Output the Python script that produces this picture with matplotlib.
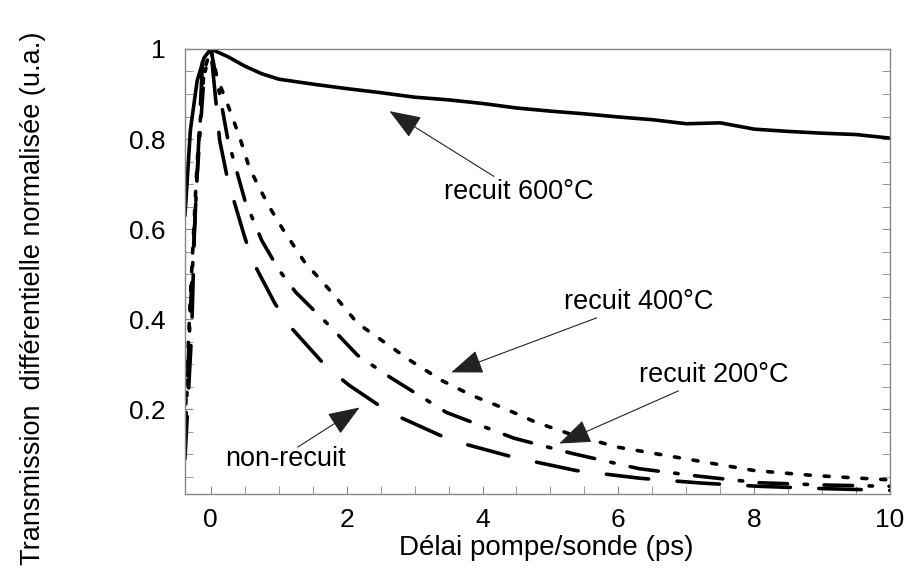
import matplotlib
matplotlib.use("Agg")
import matplotlib.pyplot as plt
from matplotlib.ticker import MultipleLocator

plt.rcParams['font.family'] = ['Liberation Sans', 'DejaVu Sans']
plt.rcParams['lines.scale_dashes'] = False

# recuit 600°C (solid)
x600 = [-0.38, -0.3, -0.2, -0.1, 0.0, 0.25, 0.5, 0.75, 1.0, 1.5, 2.0, 2.5, 3.0, 3.5, 4.0,
        4.5, 5.0, 5.5, 6.0, 6.5, 7.0, 7.5, 8.0, 8.5, 9.0, 9.5, 10.0]
y600 = [0.63, 0.82, 0.93, 0.98, 1.0, 0.983, 0.962, 0.945, 0.933, 0.922, 0.912, 0.903, 0.893,
        0.887, 0.879, 0.869, 0.862, 0.856, 0.849, 0.843, 0.834, 0.836, 0.822, 0.817, 0.813,
        0.81, 0.802]

# recuit 400°C (dotted)
x400 = [-0.38, -0.3, -0.2, -0.1, 0.0, 0.09, 0.28, 0.43, 0.57, 0.84, 1.06, 1.38, 1.79, 2.16,
        2.49, 2.93, 3.40, 3.84, 4.32, 4.79, 5.31, 5.99, 6.68, 7.38, 8.0, 8.88, 9.91, 10.0]
y400 = [0.17, 0.45, 0.75, 0.95, 1.0, 0.938, 0.864, 0.802, 0.735, 0.655, 0.6, 0.527, 0.458,
        0.391, 0.356, 0.309, 0.264, 0.231, 0.202, 0.171, 0.144, 0.116, 0.098, 0.08, 0.064,
        0.053, 0.044, 0.043]

# recuit 200°C (dash-dot)
x200 = [-0.38, -0.3, -0.2, -0.1, 0.0, 0.13, 0.25, 0.5, 0.75, 1.0, 1.25, 1.75, 2.16, 2.63,
        3.47, 4.46, 5.32, 6.31, 7.21, 8.07, 9.0, 10.0]
y200 = [0.13, 0.42, 0.72, 0.94, 1.0, 0.9, 0.8, 0.665, 0.575, 0.51, 0.46, 0.385, 0.32, 0.272,
        0.193, 0.136, 0.102, 0.068, 0.051, 0.037, 0.032, 0.029]

# non-recuit (long dash)
xnr = [-0.38, -0.28, -0.24, -0.12, 0.0, 0.13, 0.25, 0.5, 0.62, 0.94, 1.16, 1.71, 2.04, 2.63,
       3.54, 4.47, 5.38, 6.31, 7.24, 8.07, 9.0, 10.0]
ynr = [0.09, 0.376, 0.598, 0.976, 1.0, 0.798, 0.709, 0.582, 0.528, 0.436, 0.385, 0.293, 0.253,
       0.193, 0.131, 0.093, 0.064, 0.047, 0.036, 0.029, 0.024, 0.02]

fig = plt.figure(figsize=(9.08, 5.83), dpi=100)
ax = fig.add_axes([0.2037, 0.1527, 0.7766, 0.7633])

lw = 2.6
ax.plot(x600, y600, color='black', lw=lw, solid_capstyle='round', solid_joinstyle='round')
ax.plot(x400, y400, color='black', lw=lw, dashes=(3.6, 10.0), dash_capstyle='round')
ax.plot(x200, y200, color='black', lw=lw, dashes=(20.5, 11.9, 2.5, 11.9), dash_capstyle='round')
ax.plot(xnr, ynr, color='black', lw=lw, dashes=(30.6, 20.5), dash_capstyle='round')

ax.set_xlim(-0.38, 10)
ax.set_ylim(0.012, 1)
ax.xaxis.set_minor_locator(MultipleLocator(0.5))
ax.yaxis.set_minor_locator(MultipleLocator(0.05))
ax.set_yticks([0.2, 0.4, 0.6, 0.8, 1.0])
ax.set_yticklabels(['0.2', '0.4', '0.6', '0.8', '1'])
ax.set_xticks([0, 2, 4, 6, 8, 10])
ax.tick_params(which='both', direction='in', right=True, top=False, color='#888888',
               labelsize=19, length=6)
ax.tick_params(axis='y', pad=14)
ax.tick_params(axis='x', pad=10)
for s in ax.spines.values():
    s.set_color('#888888')
    s.set_linewidth(1.0)

ax.set_xlabel('Délai pompe/sonde (ps)', fontsize=20, labelpad=2, x=0.513)
ax.set_ylabel('Transmission  différentielle normalisée (u.a.)', fontsize=19.5, labelpad=60,
              y=0.44)

arrow = dict(arrowstyle='-|>,head_length=1.0,head_width=0.38', color='#222222', lw=0.8,
             mutation_scale=20, shrinkA=0, shrinkB=0)
ax.annotate('recuit 600°C', xy=(2.63, 0.862), xytext=(3.44, 0.682), fontsize=19.5,
            va='center', ha='left', arrowprops=arrow)
ax.annotate('recuit 400°C', xy=(3.54, 0.282), xytext=(5.2, 0.438), fontsize=19.5,
            va='center', ha='left', arrowprops=arrow)
ax.annotate('recuit 200°C', xy=(5.13, 0.124), xytext=(6.31, 0.276), fontsize=19.5,
            va='center', ha='left', arrowprops=arrow)
ax.annotate('', xy=(2.19, 0.204), xytext=(1.28, 0.116), arrowprops=arrow)
ax.text(0.21, 0.09, 'non-recuit', fontsize=19.5, va='center', ha='left')

fig.savefig('out.png', dpi=100)
